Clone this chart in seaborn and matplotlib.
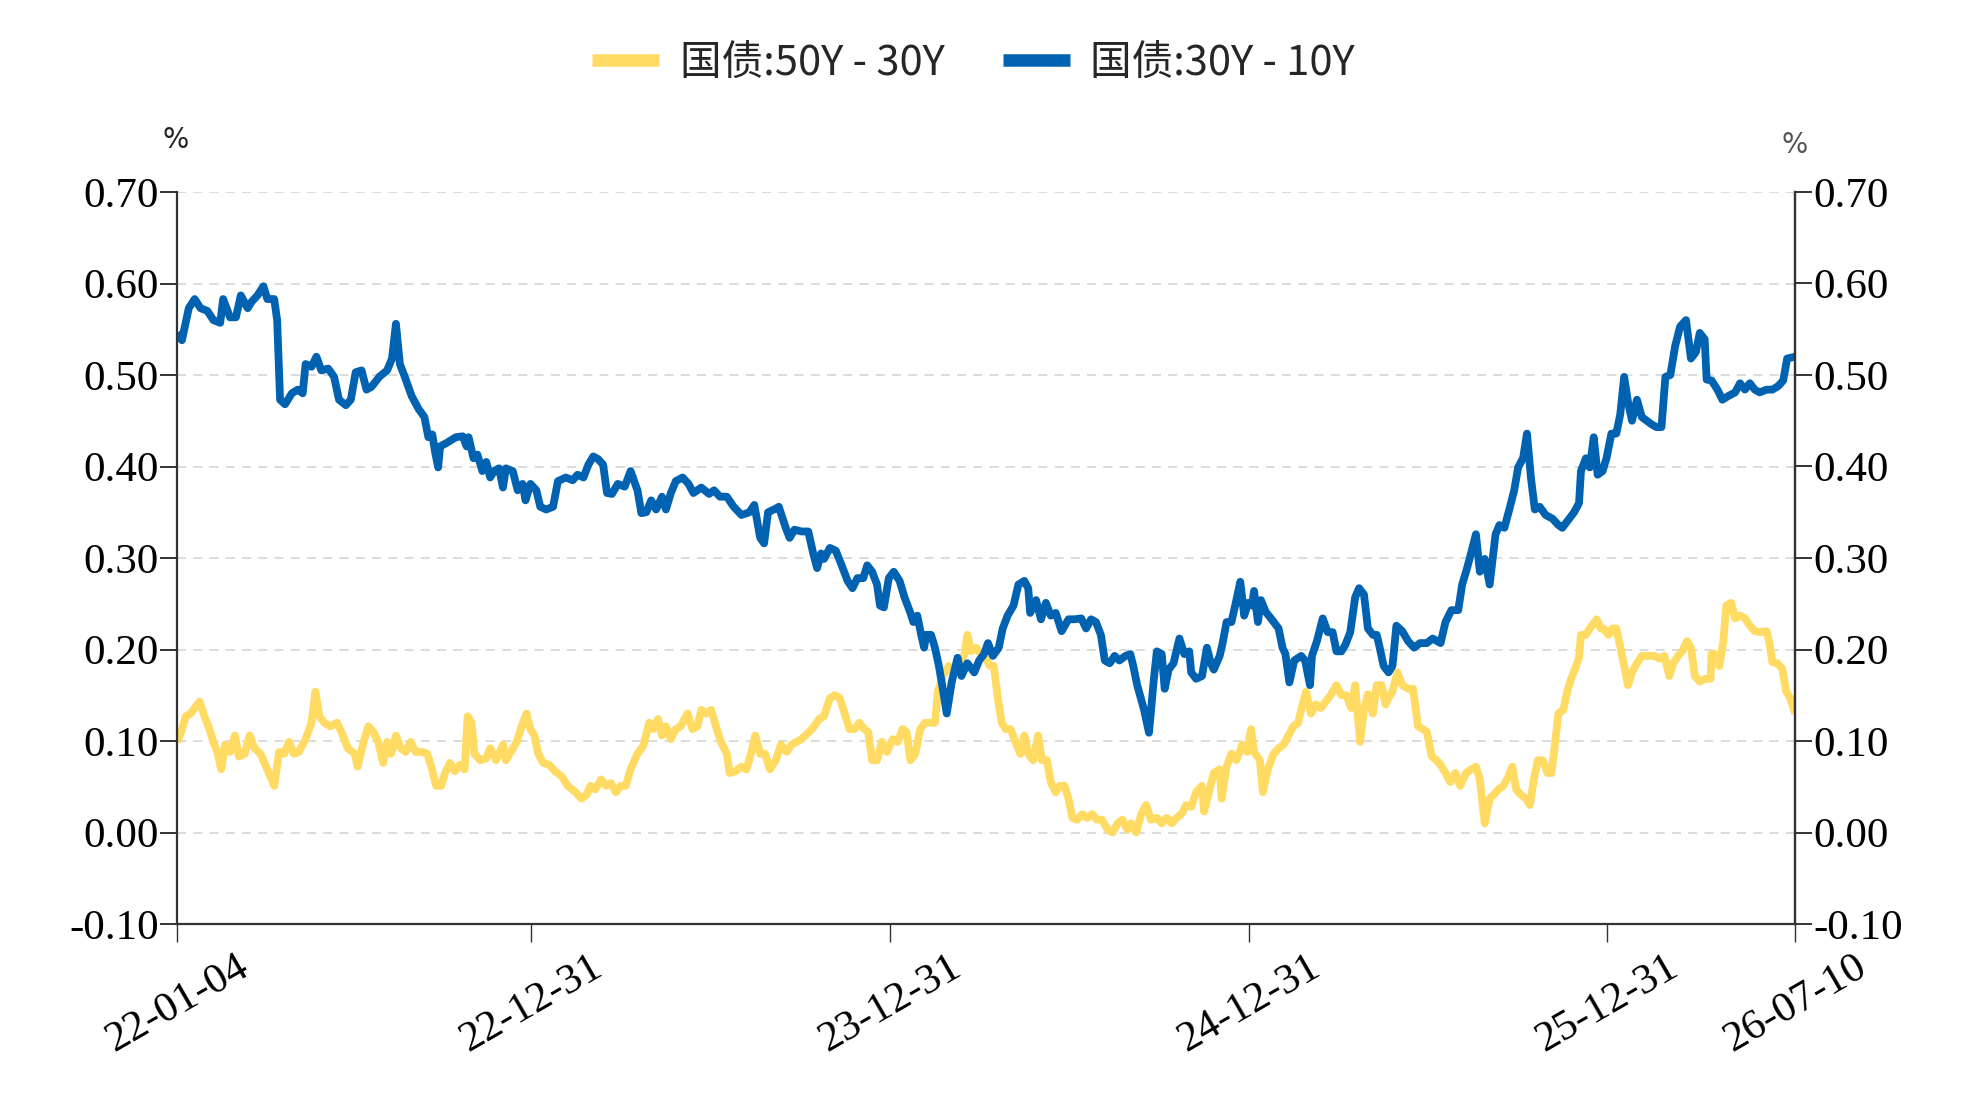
import numpy as np
import pandas as pd
import matplotlib
matplotlib.use("Agg")
import matplotlib.pyplot as plt
import matplotlib.dates as mdates
from matplotlib.lines import Line2D
import seaborn as sns

# ---------------- data ----------------
start_date = "2022-01-04"
end_date = "2026-07-10"

series_names = ["国债:50Y - 30Y", "国债:30Y - 10Y"]

# days after 2022-01-04
y50_30_days = [0, 4, 9, 14, 18, 23, 28, 33, 37, 41, 45, 49, 54, 59, 63, 69, 74, 79, 85, 92, 99, 104, 109, 114, 119, 124, 131, 137, 141, 145, 150, 156, 163, 169, 174, 181, 184, 190, 195, 200, 205, 210, 214, 218, 223, 228, 233, 238, 243, 250, 255, 259, 264, 269, 273, 278, 283, 288, 293, 296, 300, 303, 309, 315, 319, 325, 332, 335, 341, 346, 351, 356, 360, 364, 368, 373, 379, 385, 392, 398, 406, 412, 417, 421, 426, 432, 437, 442, 447, 452, 457, 462, 469, 475, 481, 485, 490, 494, 498, 503, 508, 513, 520, 525, 530, 534, 539, 544, 549, 554, 560, 563, 569, 575, 580, 585, 589, 594, 599, 604, 610, 615, 621, 626, 631, 636, 643, 649, 654, 659, 665, 670, 675, 680, 685, 690, 695, 700, 704, 708, 713, 718, 723, 729, 734, 739, 743, 747, 752, 757, 762, 767, 772, 775, 780, 786, 791, 796, 802, 805, 809, 814, 820, 825, 828, 832, 836, 840, 844, 849, 854, 859, 863, 867, 872, 877, 881, 886, 890, 895, 899, 904, 908, 912, 917, 922, 927, 932, 937, 942, 948, 953, 958, 963, 968, 972, 977, 982, 987, 992, 998, 1003, 1008, 1013, 1018, 1023, 1028, 1033, 1038, 1044, 1046, 1051, 1056, 1062, 1064, 1069, 1074, 1079, 1085, 1090, 1094, 1097, 1103, 1106, 1111, 1117, 1122, 1127, 1132, 1137, 1142, 1145, 1150, 1155, 1160, 1165, 1170, 1175, 1181, 1186, 1191, 1196, 1200, 1205, 1209, 1213, 1218, 1222, 1227, 1231, 1234, 1238, 1243, 1248, 1254, 1259, 1264, 1269, 1273, 1278, 1283, 1287, 1292, 1297, 1302, 1307, 1313, 1318, 1323, 1327, 1332, 1337, 1341, 1346, 1351, 1356, 1360, 1364, 1369, 1374, 1378, 1382, 1386, 1391, 1396, 1400, 1403, 1407, 1412, 1416, 1420, 1424, 1428, 1430, 1435, 1439, 1446, 1450, 1453, 1458, 1462, 1466, 1471, 1478, 1482, 1487, 1492, 1498, 1505, 1510, 1515, 1520, 1524, 1529, 1533, 1538, 1542, 1546, 1551, 1557, 1562, 1563, 1567, 1571, 1575, 1578, 1583, 1587, 1592, 1597, 1602, 1607, 1612, 1619, 1622, 1625, 1630, 1635, 1639, 1643, 1648]
y50_30_vals = [0.099, 0.109, 0.127, 0.130, 0.136, 0.143, 0.127, 0.113, 0.099, 0.088, 0.069, 0.096, 0.088, 0.106, 0.083, 0.086, 0.106, 0.092, 0.086, 0.069, 0.051, 0.088, 0.086, 0.099, 0.086, 0.088, 0.102, 0.120, 0.154, 0.127, 0.120, 0.116, 0.120, 0.106, 0.092, 0.086, 0.072, 0.099, 0.116, 0.110, 0.099, 0.076, 0.099, 0.086, 0.106, 0.092, 0.088, 0.099, 0.088, 0.088, 0.086, 0.072, 0.051, 0.051, 0.065, 0.076, 0.067, 0.074, 0.069, 0.127, 0.120, 0.086, 0.079, 0.081, 0.092, 0.079, 0.096, 0.079, 0.090, 0.099, 0.116, 0.130, 0.113, 0.106, 0.086, 0.076, 0.074, 0.067, 0.061, 0.051, 0.044, 0.037, 0.041, 0.051, 0.047, 0.058, 0.051, 0.054, 0.044, 0.051, 0.051, 0.069, 0.086, 0.095, 0.120, 0.113, 0.124, 0.106, 0.116, 0.102, 0.113, 0.116, 0.130, 0.113, 0.116, 0.134, 0.130, 0.134, 0.116, 0.099, 0.086, 0.065, 0.067, 0.072, 0.069, 0.088, 0.106, 0.086, 0.086, 0.069, 0.079, 0.096, 0.088, 0.096, 0.099, 0.102, 0.109, 0.116, 0.124, 0.127, 0.147, 0.150, 0.147, 0.130, 0.113, 0.113, 0.120, 0.113, 0.110, 0.079, 0.079, 0.099, 0.088, 0.102, 0.099, 0.113, 0.110, 0.079, 0.086, 0.113, 0.120, 0.120, 0.120, 0.154, 0.171, 0.182, 0.175, 0.182, 0.195, 0.216, 0.198, 0.202, 0.193, 0.188, 0.182, 0.182, 0.147, 0.120, 0.113, 0.113, 0.099, 0.086, 0.106, 0.086, 0.079, 0.106, 0.079, 0.079, 0.055, 0.044, 0.051, 0.051, 0.037, 0.016, 0.014, 0.020, 0.016, 0.020, 0.014, 0.014, 0.003, 0.000, 0.010, 0.014, 0.003, 0.010, 0.000, 0.020, 0.030, 0.014, 0.016, 0.010, 0.016, 0.010, 0.016, 0.020, 0.030, 0.028, 0.044, 0.051, 0.023, 0.044, 0.065, 0.069, 0.037, 0.072, 0.086, 0.079, 0.096, 0.088, 0.113, 0.088, 0.079, 0.044, 0.069, 0.086, 0.092, 0.096, 0.106, 0.116, 0.120, 0.134, 0.154, 0.130, 0.140, 0.136, 0.143, 0.150, 0.161, 0.150, 0.150, 0.136, 0.161, 0.099, 0.134, 0.151, 0.130, 0.161, 0.161, 0.140, 0.147, 0.154, 0.175, 0.161, 0.157, 0.157, 0.116, 0.113, 0.110, 0.083, 0.079, 0.074, 0.065, 0.055, 0.065, 0.051, 0.065, 0.069, 0.072, 0.058, 0.010, 0.037, 0.041, 0.047, 0.051, 0.061, 0.072, 0.047, 0.041, 0.037, 0.030, 0.058, 0.079, 0.079, 0.065, 0.065, 0.092, 0.130, 0.134, 0.154, 0.168, 0.179, 0.191, 0.216, 0.216, 0.223, 0.233, 0.223, 0.223, 0.216, 0.223, 0.223, 0.198, 0.161, 0.175, 0.185, 0.193, 0.193, 0.193, 0.190, 0.193, 0.171, 0.185, 0.193, 0.198, 0.209, 0.202, 0.171, 0.165, 0.168, 0.168, 0.195, 0.195, 0.182, 0.209, 0.248, 0.251, 0.234, 0.237, 0.234, 0.226, 0.220, 0.219, 0.220, 0.207, 0.186, 0.185, 0.179, 0.154, 0.147, 0.130]

y30_10_days = [0, 5, 12, 18, 24, 31, 37, 44, 47, 54, 60, 65, 72, 76, 82, 88, 92, 99, 102, 105, 110, 117, 123, 128, 131, 137, 142, 147, 154, 160, 165, 172, 177, 182, 188, 193, 198, 206, 214, 219, 223, 227, 232, 239, 246, 252, 256, 260, 263, 266, 268, 275, 284, 291, 295, 297, 302, 306, 311, 315, 319, 323, 328, 332, 335, 342, 347, 352, 355, 360, 366, 370, 376, 383, 388, 396, 403, 408, 414, 419, 424, 429, 434, 438, 443, 449, 456, 462, 469, 473, 478, 483, 488, 494, 498, 503, 508, 515, 521, 526, 534, 542, 547, 553, 560, 567, 575, 583, 588, 594, 598, 602, 608, 613, 620, 624, 629, 636, 643, 648, 652, 656, 659, 665, 671, 677, 683, 688, 693, 699, 703, 708, 713, 716, 720, 725, 730, 736, 741, 747, 750, 754, 758, 761, 763, 768, 772, 776, 780, 784, 789, 795, 799, 805, 812, 817, 822, 826, 831, 837, 841, 846, 852, 857, 863, 867, 869, 875, 880, 885, 890, 895, 901, 908, 914, 921, 926, 931, 936, 941, 945, 950, 955, 960, 966, 971, 974, 978, 985, 990, 995, 998, 1003, 1006, 1010, 1015, 1021, 1026, 1031, 1033, 1038, 1044, 1049, 1053, 1056, 1062, 1065, 1069, 1074, 1079, 1083, 1087, 1091, 1095, 1097, 1101, 1104, 1109, 1115, 1122, 1126, 1129, 1133, 1138, 1145, 1149, 1154, 1156, 1161, 1167, 1172, 1177, 1181, 1186, 1190, 1195, 1200, 1204, 1209, 1213, 1218, 1222, 1225, 1229, 1234, 1238, 1242, 1248, 1254, 1260, 1266, 1273, 1279, 1287, 1292, 1298, 1305, 1309, 1314, 1318, 1323, 1327, 1332, 1337, 1343, 1347, 1352, 1357, 1362, 1366, 1371, 1375, 1379, 1383, 1388, 1394, 1401, 1407, 1411, 1418, 1423, 1428, 1430, 1435, 1439, 1443, 1447, 1452, 1456, 1461, 1466, 1470, 1474, 1478, 1482, 1487, 1492, 1497, 1502, 1507, 1512, 1516, 1521, 1526, 1531, 1537, 1542, 1547, 1551, 1556, 1558, 1563, 1569, 1574, 1580, 1587, 1592, 1597, 1602, 1607, 1612, 1619, 1625, 1631, 1636, 1640, 1648]
y30_10_vals = [0.546, 0.538, 0.573, 0.583, 0.573, 0.570, 0.560, 0.557, 0.583, 0.563, 0.563, 0.587, 0.573, 0.580, 0.587, 0.597, 0.583, 0.583, 0.560, 0.473, 0.468, 0.480, 0.484, 0.480, 0.512, 0.509, 0.520, 0.505, 0.507, 0.498, 0.473, 0.467, 0.473, 0.503, 0.505, 0.484, 0.487, 0.498, 0.505, 0.518, 0.556, 0.512, 0.498, 0.477, 0.463, 0.454, 0.432, 0.435, 0.415, 0.399, 0.422, 0.426, 0.432, 0.433, 0.422, 0.432, 0.409, 0.413, 0.395, 0.405, 0.388, 0.395, 0.398, 0.377, 0.398, 0.395, 0.374, 0.381, 0.363, 0.381, 0.374, 0.356, 0.353, 0.356, 0.384, 0.388, 0.385, 0.391, 0.388, 0.402, 0.411, 0.408, 0.402, 0.371, 0.370, 0.381, 0.378, 0.395, 0.374, 0.349, 0.350, 0.363, 0.353, 0.367, 0.353, 0.371, 0.384, 0.388, 0.381, 0.371, 0.377, 0.370, 0.374, 0.367, 0.367, 0.356, 0.347, 0.350, 0.358, 0.322, 0.316, 0.350, 0.353, 0.356, 0.333, 0.322, 0.331, 0.329, 0.329, 0.305, 0.289, 0.305, 0.299, 0.311, 0.308, 0.292, 0.275, 0.267, 0.278, 0.278, 0.292, 0.285, 0.271, 0.248, 0.246, 0.278, 0.285, 0.275, 0.257, 0.240, 0.230, 0.237, 0.216, 0.202, 0.216, 0.216, 0.202, 0.182, 0.157, 0.130, 0.164, 0.191, 0.171, 0.185, 0.175, 0.188, 0.195, 0.207, 0.193, 0.202, 0.223, 0.237, 0.248, 0.271, 0.275, 0.267, 0.240, 0.254, 0.233, 0.251, 0.237, 0.240, 0.220, 0.233, 0.233, 0.234, 0.223, 0.233, 0.230, 0.216, 0.188, 0.185, 0.193, 0.188, 0.193, 0.195, 0.182, 0.161, 0.134, 0.109, 0.168, 0.198, 0.195, 0.157, 0.178, 0.185, 0.212, 0.195, 0.198, 0.175, 0.168, 0.171, 0.202, 0.185, 0.178, 0.193, 0.207, 0.230, 0.230, 0.254, 0.274, 0.237, 0.251, 0.248, 0.264, 0.230, 0.254, 0.241, 0.233, 0.223, 0.202, 0.195, 0.164, 0.188, 0.193, 0.188, 0.161, 0.193, 0.209, 0.234, 0.219, 0.219, 0.198, 0.198, 0.205, 0.219, 0.257, 0.267, 0.260, 0.223, 0.216, 0.216, 0.202, 0.182, 0.175, 0.182, 0.226, 0.220, 0.209, 0.202, 0.207, 0.207, 0.212, 0.207, 0.230, 0.243, 0.243, 0.271, 0.289, 0.305, 0.326, 0.285, 0.299, 0.271, 0.326, 0.336, 0.333, 0.353, 0.374, 0.399, 0.409, 0.436, 0.388, 0.353, 0.356, 0.347, 0.343, 0.336, 0.333, 0.343, 0.350, 0.360, 0.395, 0.409, 0.399, 0.432, 0.391, 0.395, 0.409, 0.436, 0.436, 0.457, 0.498, 0.470, 0.450, 0.473, 0.454, 0.450, 0.446, 0.443, 0.443, 0.498, 0.500, 0.532, 0.553, 0.560, 0.518, 0.525, 0.546, 0.539, 0.495, 0.494, 0.484, 0.473, 0.477, 0.481, 0.491, 0.484, 0.491, 0.484, 0.481, 0.484, 0.484, 0.488, 0.494, 0.518, 0.520]

tick_dates = ["2022-01-04", "2022-12-31", "2023-12-31", "2024-12-31", "2025-12-31", "2026-07-10"]
tick_labels = ["22-01-04", "22-12-31", "23-12-31", "24-12-31", "25-12-31", "26-07-10"]
y_ticks = [-0.10, 0.0, 0.10, 0.20, 0.30, 0.40, 0.50, 0.60, 0.70]

colors = ["#FFDB63", "#0062B0"]

# ---------------- build table ----------------
t0 = pd.Timestamp(start_date)
df = pd.concat([
    pd.DataFrame({"date": t0 + pd.to_timedelta(y50_30_days, unit="D"),
                  "value": y50_30_vals, "series": series_names[0]}),
    pd.DataFrame({"date": t0 + pd.to_timedelta(y30_10_days, unit="D"),
                  "value": y30_10_vals, "series": series_names[1]}),
], ignore_index=True)

# ---------------- style ----------------
sns.set_theme(style="white")
plt.rcParams["font.family"] = ["Liberation Serif", "DejaVu Serif"]
plt.rcParams["axes.unicode_minus"] = False

W, H = 1971, 1108
fig = plt.figure(figsize=(W / 100, H / 100), dpi=100)
ax = fig.add_axes([177 / W, 1 - 924 / H, (1795 - 177) / W, (924 - 192) / H])

sns.lineplot(data=df, x="date", y="value", hue="series", palette=colors,
             hue_order=series_names, estimator=None, sort=False,
             legend=False, ax=ax)
for ln in ax.get_lines():
    ln.set_linewidth(5.6)
    ln.set_solid_joinstyle("round")
    ln.set_solid_capstyle("butt")

ax.set_xlim(pd.Timestamp(start_date), pd.Timestamp(end_date))
ax.set_ylim(-0.10, 0.70)
ax.set_xlabel("")
ax.set_ylabel("")

ax.set_xticks(pd.to_datetime(tick_dates))
ax.set_xticklabels(tick_labels, rotation=30, ha="center", fontsize=31)
ax.set_yticks(y_ticks)
ax.set_yticklabels([f"{v:.2f}" for v in y_ticks], fontsize=31)

spine_c = "#333333"
for s in ["left", "bottom", "right"]:
    ax.spines[s].set_color(spine_c)
    ax.spines[s].set_linewidth(1.6)
ax.spines["top"].set_visible(False)

ax.tick_params(axis="y", which="major", direction="out", length=12, width=1.4,
               color=spine_c, pad=1, left=True, labelcolor="black")
ax.tick_params(axis="x", which="major", direction="out", length=13, width=1.0,
               color=spine_c, pad=4, bottom=True, labelcolor="black")

# grid
for v in y_ticks[1:]:
    ax.axhline(v, color="#D9D9D9", linewidth=1.3, linestyle=(0, (5, 4)), zorder=0)

# right axis
ax2 = ax.twinx()
ax2.set_ylim(-0.10, 0.70)
ax2.set_yticks(y_ticks)
ax2.set_yticklabels([f"{v:.2f}" for v in y_ticks], fontsize=31)
ax2.tick_params(axis="y", direction="out", length=12, width=1.4, color=spine_c,
                pad=1, right=True, labelcolor="black")
for s in ["left", "top", "bottom"]:
    ax2.spines[s].set_visible(False)
ax2.spines["right"].set_color(spine_c)
ax2.spines["right"].set_linewidth(1.6)
ax2.grid(False)

# unit labels
fig.text(176 / W, 1 - 140 / H, "%", fontsize=20, family="DejaVu Sans",
         ha="center", va="center", color="#222222")
fig.text(1795 / W, 1 - 145 / H, "%", fontsize=20, family="DejaVu Sans",
         ha="center", va="center", color="#555555")

# legend
handles = [Line2D([0], [0], color=c, linewidth=9, solid_capstyle="butt") for c in colors]
fig.legend(handles, series_names, loc="center", bbox_to_anchor=(0.494, 1 - 63 / H),
           ncol=2, frameon=False, handlelength=1.6, handletextpad=0.5,
           columnspacing=1.4,
           prop={"family": ["Noto Sans CJK SC", "DejaVu Sans"], "size": 30})

fig.savefig("out.png", dpi=100)
